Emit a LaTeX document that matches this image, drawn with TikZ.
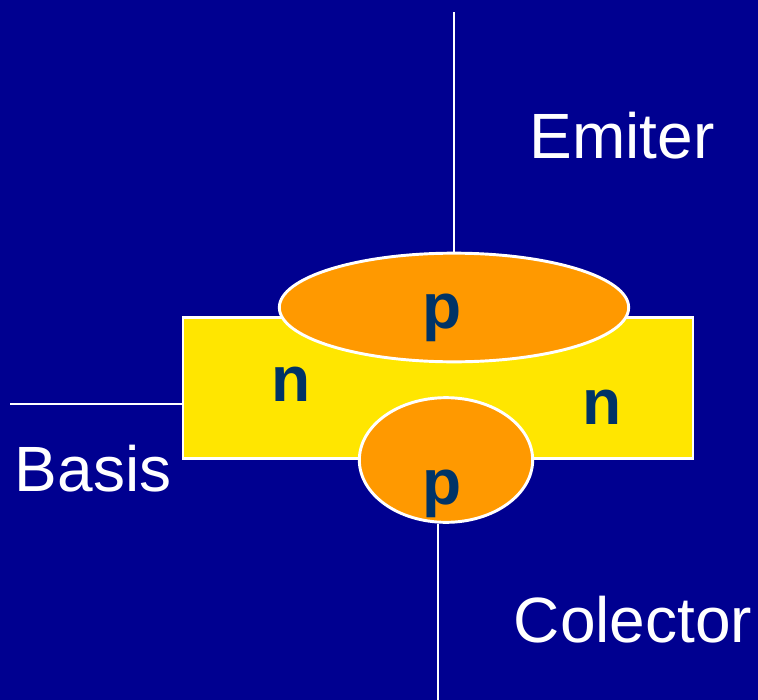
\documentclass[tikz,border=0pt]{standalone}
\usepackage{fontspec}
\setmainfont{Liberation Sans}
\usetikzlibrary{shapes.geometric}
\definecolor{bg}{HTML}{000090}
\definecolor{yel}{HTML}{FFE600}
\definecolor{org}{HTML}{FF9900}
\definecolor{dk}{HTML}{003366}
\tikzset{
 px/.style={x=0.75pt,y=-0.75pt},
 lead/.style={draw=white,line width=2.2pt},
 lab/.style={text=white,font=\fontsize{48}{52}\selectfont,inner sep=0pt},
 dop/.style={text=dk,font=\bfseries\fontsize{48}{52}\selectfont,inner sep=0pt},
 bub/.style={ellipse,draw=white,fill=org,line width=2.2pt,inner sep=0pt}
}
\begin{document}
\begin{tikzpicture}[px]
\useasboundingbox (0,0) rectangle (758,700);
\fill[bg] (0,0) rectangle (758,700);
\coordinate (et) at (454,12);
\coordinate (bl) at (10,404);
\coordinate (cb) at (438,700);
\node[draw=white,fill=yel,line width=2.2pt,minimum width=382.5pt,minimum height=106pt,inner sep=0pt] (base) at (438,388) {};
\node[bub,minimum width=262pt,minimum height=81.5pt] (em) at (454,307.5) {};
\node[bub,minimum width=130pt,minimum height=93.5pt] (co) at (446,460) {};
\draw[lead] (et) -- (em.north);
\draw[lead] (bl) -- ([xshift=1.5pt]bl-|base.west);
\draw[lead] (co.south-|cb) -- (cb);
\node[dop] (p1) at (442,318) {p};
\node[dop] (p2) at (442,494) {p};
\node[dop] (n1) at (291,384) {n};
\node[dop] (n2) at (602,407) {n};
\node[lab] (te) at (622,136) {Emiter};
\node[lab] (tb) at (93,469) {Basis};
\node[lab] (tc) at (633,620) {Colector};
\end{tikzpicture}
\end{document}
